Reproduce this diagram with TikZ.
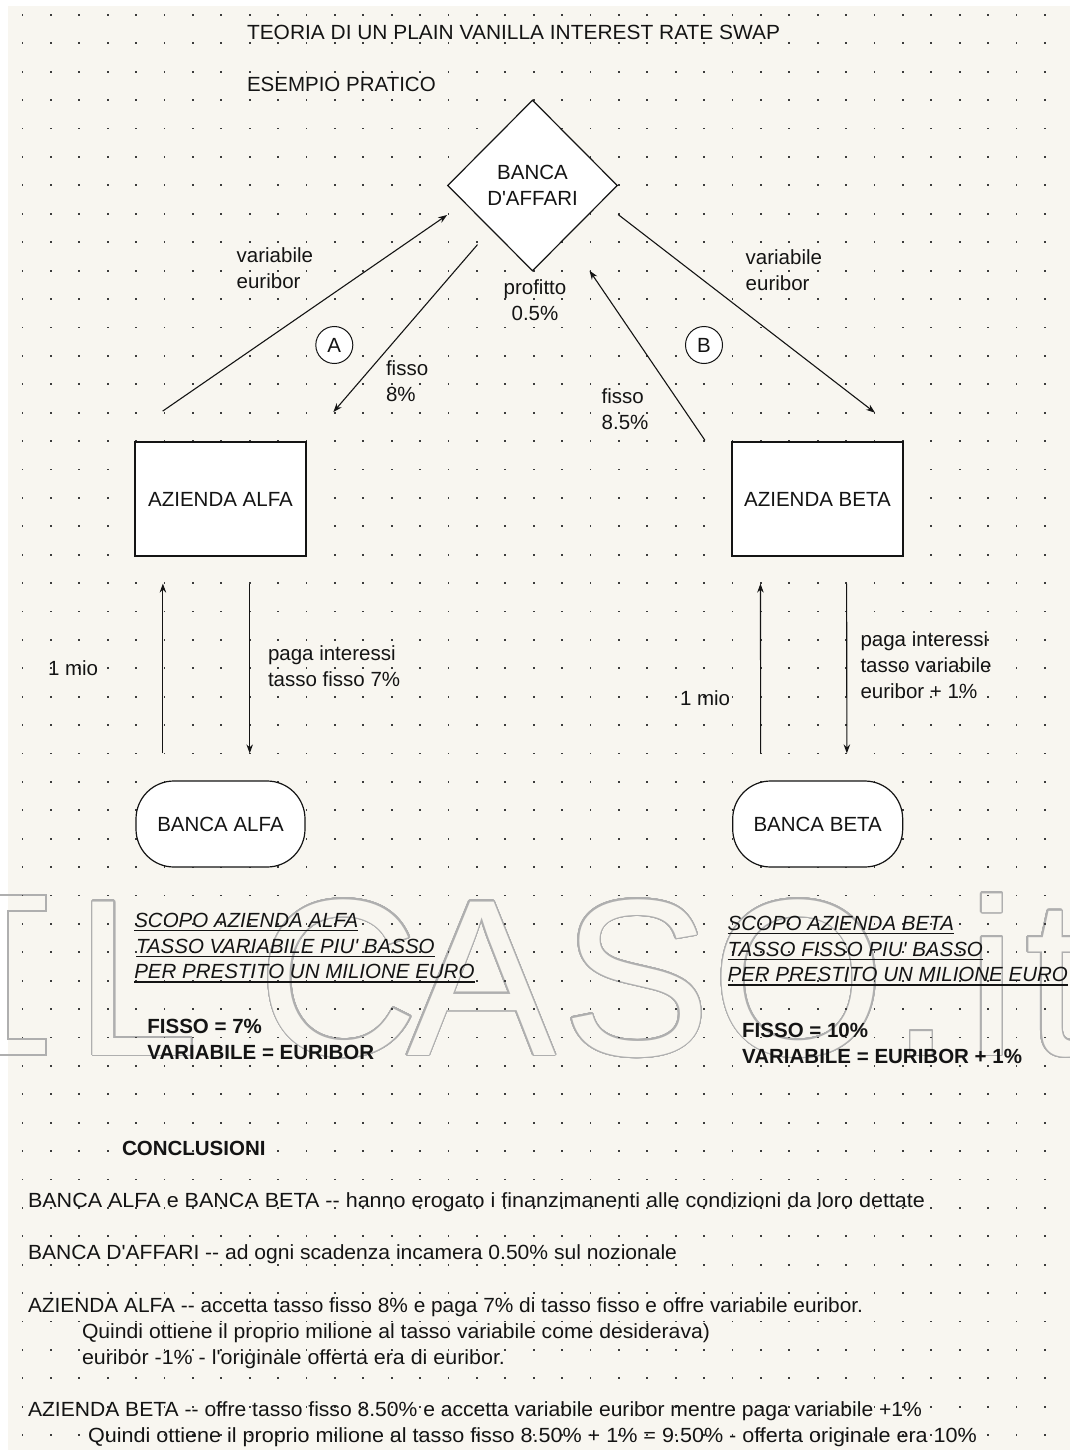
\documentclass[tikz,border=0pt]{standalone}
\usepackage{fontspec}
\setmainfont{Liberation Sans}
\usepackage{contour}
\contourlength{1.3pt}
\contournumber{40}
\usetikzlibrary{shapes.geometric,arrows.meta,calc}
\definecolor{paper}{RGB}{248,246,240}
\definecolor{ink}{RGB}{20,20,20}
\definecolor{dotc}{RGB}{60,60,60}
\definecolor{wmc}{RGB}{175,175,175}
\newcommand\fs{\fontsize{20.5}{25.8}\selectfont}
\newcommand\wmfs{\fontsize{223}{223}\selectfont}
\newcommand\wmout[1]{\contour{wmc}{#1}}
\newcommand\fitw[2]{\resizebox{#1}{\height}{#2}}
\tikzset{
 lbl/.style={font=\fs, text=ink, inner sep=0pt, outer sep=0pt, align=left, anchor=base west},
 scp/.style={lbl, font=\fs\itshape},
 bld/.style={lbl, font=\fs\bfseries},
 ul/.style={draw=ink, line width=1.6pt},
 box/.style={draw=ink, fill=white, line width=1.2pt, inner sep=0pt, font=\fs, text=ink},
 arr/.style={draw=ink, line width=1.1pt, -{Stealth[length=9pt,width=6.5pt]}},
 wmark/.style={inner sep=0pt, anchor=base, font=\wmfs, text=paper},
}
\begin{document}
\begin{tikzpicture}[x=1pt,y=-1pt]
\useasboundingbox (0,0) rectangle (1070,1450);
\fill[white] (0,0) rectangle (1070,1450);
\fill[paper] (7.6,6) rectangle (1070,1450);

% watermark
\draw[wmc, line width=1.4pt] (-60,895) -- (46,895) -- (46,911) -- (8,911) -- (8,1039) -- (46,1039) -- (46,1055) -- (-60,1055);
\node[wmark] (wmL) at (137,1055) {\wmout{L}};
\node[wmark] (wmC) at (338.5,1055) {\wmout{C}};
\node[wmark] (wmA) at (481.5,1055) {\wmout{A}};
\node[wmark] (wmS) at (636.5,1055) {\wmout{S}};
\node[wmark] (wmO) at (798.5,1055) {\wmout{O}};
\node[wmark] (wmDot) at (921.5,1055) {\wmout{.}};
\node[wmark] (wmi) at (992,1055) {\wmout{i}};
\node[wmark] (wmt) at (1056,1055) {\wmout{t}};

% dot grid
\foreach \i in {0,...,36}{\foreach \j in {0,...,50}{\fill[dotc] ({22.4+28.4*\i-0.9},{15+28.4*\j-0.9}) rectangle ++(1.8,1.8);}}

% titles
\node[lbl] (title) at (247,40) {\fitw{533pt}{TEORIA DI UN PLAIN VANILLA INTEREST RATE SWAP}};
\node[lbl] (sub) at (247,92) {ESEMPIO PRATICO};

% nodes
\node[diamond, draw=ink, fill=white, line width=1.2pt, minimum width=170pt, minimum height=171pt, inner sep=0pt, align=center, font=\fs, text=ink] (bank) at (532.5,185.5) {BANCA\\D\textquotesingle AFFARI};
\node[box, minimum width=171pt, minimum height=114pt] (alfa) at (220.5,499) {AZIENDA ALFA};
\node[box, minimum width=171pt, minimum height=114pt] (beta) at (817.4,499) {AZIENDA BETA};
\node[box, rounded corners=38pt, minimum width=169pt, minimum height=86pt] (bancaalfa) at (220.5,824) {BANCA ALFA};
\node[box, rounded corners=38pt, minimum width=170pt, minimum height=86pt] (bancabeta) at (817.7,824) {BANCA BETA};
\node[circle, draw=ink, fill=white, line width=1pt, minimum size=37pt, inner sep=0pt, font=\fs, text=ink] (cA) at (334.3,345) {A};
\node[circle, draw=ink, fill=white, line width=1pt, minimum size=37pt, inner sep=0pt, font=\fs, text=ink] (cB) at (704,345) {B};

% connector ends
\coordinate (vA1) at ($(alfa.north)+(-57.8,-30.3)$);
\coordinate (vA2) at ($(bank.west)+(0.2,29.5)$);
\coordinate (fA1) at ($(bank.south)+(-55,-27)$);
\coordinate (fA2) at ($(alfa.north east)+(26.7,-29.3)$);
\coordinate (fB1) at ($(beta.north)+(-112.4,-1)$);
\coordinate (fB2) at ($(bank.south)+(57,-1)$);
\coordinate (vB1) at ($(bank.east)+(0,29)$);
\coordinate (vB2) at ($(beta.north)+(57.6,-28.7)$);
\draw[arr] (vA1) -- (vA2);
\draw[arr] (fA1) -- (fA2);
\draw[arr] (fB1) -- (fB2);
\draw[arr] (vB1) -- (vB2);
\draw[arr, shorten <=27pt, shorten >=27pt] ([xshift=-57.6pt]bancaalfa.north) -- ([xshift=-57.6pt]alfa.south);
\draw[arr, shorten <=27pt, shorten >=27pt] ([xshift=29.2pt]alfa.south) -- ([xshift=29.2pt]bancaalfa.north);
\draw[arr, shorten <=27pt, shorten >=27pt] ([xshift=-57pt]bancabeta.north) -- ([xshift=-57pt]beta.south);
\draw[arr, shorten <=27pt, shorten >=27pt] ([xshift=29.2pt]beta.south) -- ([xshift=29.2pt]bancabeta.north);

% labels (base = baseline of the last line)
\node[lbl] (lvA) at (236.7,288.3) {variabile\\euribor};
\node[lbl] (lfA) at (386,401.7) {fisso\\8\%};
\node[lbl, align=center, anchor=base] (lprof) at (535,320) {profitto\\0.5\%};
\node[lbl] (lfB) at (601.7,429.3) {fisso\\8.5\%};
\node[lbl] (lvB) at (745.7,290) {variabile\\euribor};
\node[lbl] (m1) at (48,675) {1 mio};
\node[lbl] (pA) at (268,686.7) {paga interessi\\tasso fisso 7\%};
\node[lbl] (m2) at (680,705) {1 mio};
\node[lbl] (pB) at (860.5,698.3) {paga interessi\\tasso variabile\\euribor + 1\%};

% scopo
\node[scp] (sa1) at (134.3,927) {SCOPO AZIENDA ALFA};
\node[scp] (sa2) at (136,953) {TASSO VARIABILE PIU\textquotesingle{} BASSO};
\node[scp] (sa3) at (134.3,978.5) {PER PRESTITO UN MILIONE EURO};
\node[scp] (sb1) at (727.6,930) {SCOPO AZIENDA BETA};
\node[scp] (sb2) at (727.6,956) {TASSO FISSO PIU\textquotesingle{} BASSO};
\node[scp] (sb3) at (727.6,981.5) {PER PRESTITO UN MILIONE EURO};
\foreach \n in {sa1,sa2,sa3,sb1,sb2,sb3}{\draw[ul] ([yshift=-3.3pt]\n.base west) -- ([yshift=-3.3pt]\n.base east);}
\node[bld] (fa1) at (147.4,1059) {FISSO = 7\%\\VARIABILE = EURIBOR};
\node[bld] (fb1) at (742.2,1063) {FISSO = 10\%\\VARIABILE = EURIBOR + 1\%};

% conclusions
\node[bld] (conc) at (122,1155) {CONCLUSIONI};
\node[lbl] (c1) at (28,1207) {\fitw{897pt}{BANCA ALFA e BANCA BETA -{}- hanno erogato i finanzimanenti alle condizioni da loro dettate}};
\node[lbl] (c2) at (28,1259) {\fitw{649pt}{BANCA D\textquotesingle AFFARI -{}- ad ogni scadenza incamera 0.50\% sul nozionale}};
\node[lbl] (c3) at (28,1312) {\fitw{835pt}{AZIENDA ALFA -{}- accetta tasso fisso 8\% e paga 7\% di tasso fisso e offre variabile euribor.}};
\node[lbl] (c4) at (82,1338) {\fitw{628pt}{Quindi ottiene il proprio milione al tasso variabile come desiderava)}};
\node[lbl] (c5) at (82,1364) {\fitw{423pt}{euribor -1\% - l\textquotesingle originale offerta era di euribor.}};
\node[lbl] (c6) at (28,1416) {\fitw{894pt}{AZIENDA BETA -{}- offre tasso fisso 8.50\% e accetta variabile euribor mentre paga variabile +1\%}};
\node[lbl] (c7) at (88,1442) {\fitw{889pt}{Quindi ottiene il proprio milione al tasso fisso 8.50\% + 1\% = 9.50\% - offerta originale era 10\%}};
\end{tikzpicture}
\end{document}
